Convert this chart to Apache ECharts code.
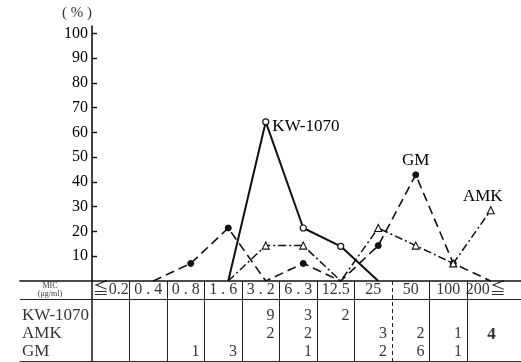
<!DOCTYPE html>
<html>
<head>
<meta charset="utf-8">
<script src="https://cdn.jsdelivr.net/npm/echarts@6/dist/echarts.min.js"></script>
<style>
html,body{margin:0;padding:0;background:#fff;}
#c{width:521px;height:362px;}
</style>
</head>
<body>
<div id="c"></div>
<script>
// ---- data ----
const categories = ['≦0.2','0.4','0.8','1.6','3.2','6.3','12.5','25','50','100','200≦'];
const kwPct  = [null, null, null, 0, 64.3, 21.4, 14, 0, null, null, null];
const amkPct = [null, null, null, 0, 14.3, 14.3, 0, 21.4, 14.3, 7.1, 28.6];
const gmPct  = [null, 0, 7.1, 21.4, 0, 7.1, 0, 14.3, 42.9, 7.1, 0];
const rowNames = ['KW-1070', 'AMK', 'GM'];
const kwCount  = ['', '', '', '', '9', '3', '2', '', '', '', ''];
const amkCount = ['', '', '', '', '2', '2', '', '3', '2', '1', '4'];
const gmCount  = ['', '', '1', '3', '', '1', '', '2', '6', '1', ''];
const yTicks = [10, 20, 30, 40, 50, 60, 70, 80, 90, 100];

// ---- layout ----
const FONT = '"Liberation Serif", "DejaVu Serif", "Noto Sans CJK JP", serif';
const INK = '#000';
const PX0 = 92, COL = 37.5;            // table geometry
const toV = px => (px - PX0) / COL;
const rowY = [34, 52, 70];             // table row centres (px below table top)
const headY = 9;

const chart = echarts.init(document.getElementById('c'), null, {renderer: 'canvas'});

function lineData(arr) {
  return arr.map(v => (v === 0 ? {value: 0, symbol: 'none'} : v));
}
function withLabel(data, idx, text, pos, extra) {
  const d = data.slice();
  const v = d[idx];
  d[idx] = {value: (typeof v === 'object' && v !== null) ? v.value : v,
    label: Object.assign({show: true, formatter: text, position: pos,
      fontFamily: FONT, fontSize: 17, color: INK}, extra || {})};
  return d;
}

const tableItems = [];
categories.forEach((c, i) => {
  const disp = /^\d\.\d$/.test(c) ? c.split('').join(' ') : c;
  tableItems.push({value: [i + 0.5, headY], label: {formatter: disp, align: 'center', fontSize: 16}});
});
tableItems.push({value: [toV(50), headY], label: {formatter: 'MIC\n(μg/ml)', align: 'center', fontSize: 8, lineHeight: 8}});
rowNames.forEach((n, r) => {
  tableItems.push({value: [toV(22), rowY[r] + 1], label: {formatter: n, align: 'left', fontSize: 17}});
});
[kwCount, amkCount, gmCount].forEach((arr, r) => {
  arr.forEach((t, i) => {
    if (t !== '') {
      const big = (r === 1 && i === 10);
      tableItems.push({value: [big ? i + 0.5 + 0.15 : i + 1 - 5 / COL, rowY[r] + (big ? 1.5 : 0.5)],
        label: {formatter: t, align: big ? 'center' : 'right', fontSize: big ? 17 : 16, fontWeight: big ? 'bold' : 'normal'}});
    }
  });
});

const vLines = [];
for (let k = 0; k <= 10; k++) {
  vLines.push({xAxis: k, lineStyle: {
    color: '#222', width: k === 0 ? 1.6 : 1, type: k === 8 ? [4, 3] : 'solid'}});
}

const option = {
  animation: false,
  backgroundColor: '#fff',
  grid: [
    {left: 97, width: 412.5, top: 26, bottom: 81},
    {left: 20, right: 0, top: 281, bottom: 1}
  ],
  xAxis: [
    {gridIndex: 0, type: 'category', data: categories, boundaryGap: true,
      axisLine: {show: false}, axisTick: {show: false}, axisLabel: {show: false}, splitLine: {show: false}},
    {gridIndex: 1, type: 'value', min: toV(20), max: toV(521), position: 'top',
      axisLine: {show: true, onZero: false, lineStyle: {color: '#111', width: 1.6}},
      axisTick: {show: false}, axisLabel: {show: false}, splitLine: {show: false}},
    {gridIndex: 1, type: 'value', min: toV(20), max: toV(521), position: 'bottom',
      axisLine: {show: true, onZero: false, lineStyle: {color: '#333', width: 1}},
      axisTick: {show: false}, axisLabel: {show: false}, splitLine: {show: false}}
  ],
  yAxis: [
    {gridIndex: 0, type: 'value', min: 0, max: 103, interval: 10, offset: 5,
      name: '( % )', nameLocation: 'end', nameGap: 5,
      nameTextStyle: {fontFamily: FONT, fontSize: 15, color: '#333', align: 'center', padding: [0, 30, 0, 0]},
      axisLine: {show: true, lineStyle: {color: '#111', width: 1.6}},
      axisTick: {show: true, inside: true, length: 5, customValues: yTicks, lineStyle: {color: '#111', width: 1.4}},
      axisLabel: {customValues: yTicks, fontFamily: FONT, fontSize: 16, color: INK, margin: 4},
      splitLine: {show: false}},
    {gridIndex: 1, type: 'value', min: 0, max: 80, inverse: true, show: false,
      axisLine: {onZero: false}}
  ],
  series: [
    {name: 'KW-1070', type: 'line', xAxisIndex: 0, yAxisIndex: 0,
      data: withLabel(lineData(kwPct), 4, 'KW-1070', 'right', {distance: 3, offset: [0, 5]}),
      symbol: 'circle', symbolSize: 6, showAllSymbol: true,
      itemStyle: {color: '#fff', borderColor: '#111', borderWidth: 1.2},
      lineStyle: {color: '#111', width: 2}, z: 3},
    {name: 'GM', type: 'line', xAxisIndex: 0, yAxisIndex: 0,
      data: withLabel(lineData(gmPct), 8, 'GM', 'top', {distance: 2}),
      symbol: 'circle', symbolSize: 6, showAllSymbol: true,
      itemStyle: {color: '#111', borderColor: '#111', borderWidth: 1},
      lineStyle: {color: '#111', width: 1.6, type: [9, 5]}, z: 2},
    {name: 'AMK', type: 'line', xAxisIndex: 0, yAxisIndex: 0,
      data: withLabel(lineData(amkPct), 10, 'AMK', 'top', {distance: 1, offset: [-8, 0]}),
      symbol: 'triangle', symbolSize: 7, showAllSymbol: true,
      itemStyle: {color: '#fff', borderColor: '#111', borderWidth: 1.1},
      lineStyle: {color: '#111', width: 1.5, type: [8, 3, 2, 3]}, z: 2},
    {name: 'table', type: 'scatter', xAxisIndex: 1, yAxisIndex: 1,
      symbolSize: 1, itemStyle: {color: 'rgba(0,0,0,0)'}, silent: true,
      label: {show: true, position: 'inside', verticalAlign: 'middle', fontFamily: FONT, color: INK},
      data: tableItems,
      markLine: {silent: true, symbol: 'none', label: {show: false},
        lineStyle: {color: '#222', width: 1, type: 'solid'},
        data: vLines.concat([{yAxis: 18, lineStyle: {color: '#222', width: 1, type: 'solid'}}])}}
  ]
};
chart.setOption(option);
</script>
</body>
</html>
